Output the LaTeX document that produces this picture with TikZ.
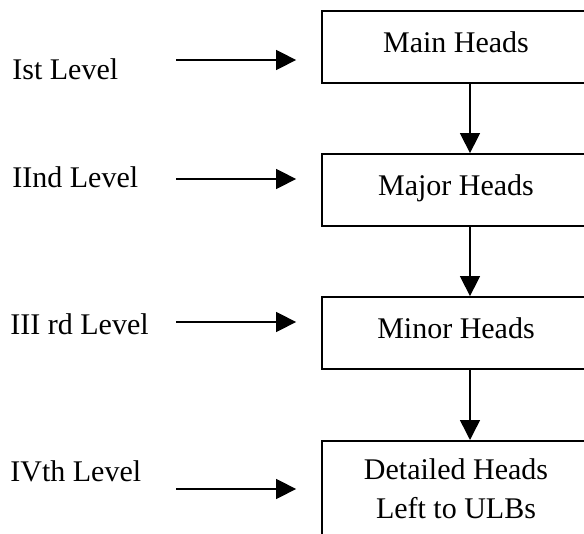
\documentclass[tikz,border=0pt]{standalone}
\usepackage{fontspec}
\setmainfont{Liberation Serif}
\usetikzlibrary{arrows.meta}

\begin{document}
\begin{tikzpicture}[x=0.5pt, y=-0.5pt, font=\fontsize{15}{19.5}\selectfont,
    headbox/.style={draw, line width=0.9pt, minimum width=134pt, minimum height=36pt,
      text height=10.5pt, text depth=5pt},
    levellabel/.style={anchor=base west, inner sep=0pt},
    arr/.style={-{Triangle[length=10pt, width=10pt]}, line width=0.75pt}]
    \useasboundingbox (0,0) rectangle (584,534);
    \clip (0,0) rectangle (584,534);

    % boxes
    \node (main) [headbox] at (456,47) {Main Heads};
    \node (major) [headbox] at (456,190) {Major Heads};
    \node (minor) [headbox] at (456,333) {Minor Heads};
    \node (detail) [draw, line width=0.9pt, minimum width=134pt, align=center,
      anchor=north, inner ysep=8.75pt, text depth=20pt] at (456,440)
      {Detailed Heads\\Left to ULBs};

    % levels
    \node (l1) [levellabel] at (12,80) {Ist Level};
    \node (l2) [levellabel] at (12,188) {IInd Level};
    \node (l3) [levellabel] at (10,335) {III rd Level};
    \node (l4) [levellabel] at (10,481) {IVth Level};

    \coordinate (s1) at (176,60);
    \coordinate (s2) at (176,179);
    \coordinate (s3) at (176,322);
    \coordinate (s4) at (176,489);

    \draw[arr, shorten >=12.5pt] (s1) -- (s1 -| main.west);
    \draw[arr, shorten >=12.5pt] (s2) -- (s2 -| major.west);
    \draw[arr, shorten >=12.5pt] (s3) -- (s3 -| minor.west);
    \draw[arr, shorten >=12.5pt] (s4) -- (s4 -| detail.west);

    \draw[arr] ([xshift=7pt]main.south) -- ([xshift=7pt]major.north);
    \draw[arr] ([xshift=7pt]major.south) -- ([xshift=7pt]minor.north);
    \draw[arr] ([xshift=7pt]minor.south) -- ([xshift=7pt]detail.north);
  \end{tikzpicture}
\end{document}
